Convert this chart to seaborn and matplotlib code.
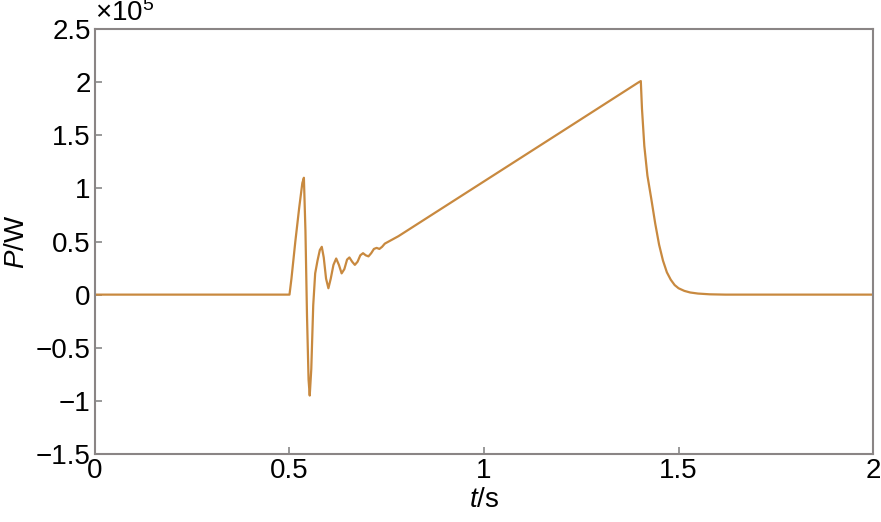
import matplotlib
matplotlib.use('Agg')
import matplotlib.pyplot as plt
import seaborn as sns
import pandas as pd
from matplotlib.ticker import FuncFormatter

# power trace, values in units of 1e5 W
t_s = [0.0, 0.500, 0.505, 0.515, 0.525, 0.533, 0.537, 0.541, 0.545, 0.549,
       0.552, 0.556, 0.561, 0.566, 0.572, 0.578, 0.583, 0.588, 0.594, 0.600,
       0.606, 0.613, 0.620, 0.627, 0.634, 0.641, 0.648, 0.654, 0.661, 0.668,
       0.675, 0.682, 0.689, 0.696, 0.703, 0.710, 0.717, 0.724, 0.731, 0.738,
       0.745, 0.755, 0.765, 0.780, 1.000, 1.200, 1.398, 1.403, 1.406, 1.412,
       1.420, 1.430, 1.440, 1.450, 1.460, 1.470, 1.480, 1.490, 1.500, 1.515,
       1.530, 1.550, 1.580, 1.620, 2.0]
p_w = [0.0, 0.0, 0.15, 0.50, 0.82, 1.05, 1.10, 0.60, -0.20, -0.80,
       -0.95, -0.70, -0.10, 0.20, 0.32, 0.42, 0.45, 0.35, 0.15, 0.06,
       0.15, 0.28, 0.34, 0.28, 0.20, 0.24, 0.33, 0.35, 0.31, 0.28,
       0.31, 0.37, 0.39, 0.37, 0.36, 0.39, 0.43, 0.44, 0.43, 0.45,
       0.48, 0.50, 0.52, 0.55, 1.066, 1.535, 2.00, 2.01, 1.75, 1.40,
       1.12, 0.90, 0.67, 0.47, 0.32, 0.21, 0.14, 0.09, 0.06, 0.035,
       0.02, 0.01, 0.003, 0.0, 0.0]

x_ticks = [0, 0.5, 1, 1.5, 2]
y_ticks = [-1.5, -1, -0.5, 0, 0.5, 1, 1.5, 2, 2.5]

sns.set_style('white')
plt.rcParams['font.family'] = ['Liberation Sans', 'DejaVu Sans']
plt.rcParams['mathtext.fontset'] = 'custom'
plt.rcParams['mathtext.rm'] = 'Liberation Sans'
plt.rcParams['mathtext.it'] = 'Liberation Sans:italic'
plt.rcParams['text.color'] = 'black'
plt.rcParams['axes.labelcolor'] = 'black'

df = pd.DataFrame({'t': t_s, 'P': p_w})

fig = plt.figure(figsize=(8.81, 5.22), dpi=100)
ax = fig.add_axes([0.1078, 0.1303, 0.8832, 0.8141])
sns.lineplot(data=df, x='t', y='P', ax=ax, color='#c8893f', lw=1.6)

ax.set_xlim(0, 2)
ax.set_ylim(-1.5, 2.5)
ax.set_xticks(x_ticks)
ax.set_yticks(y_ticks)
fmt = FuncFormatter(lambda v, pos: ('%g' % v).replace('-', '\u2212'))
ax.xaxis.set_major_formatter(fmt)
ax.yaxis.set_major_formatter(fmt)
ax.tick_params(direction='in', length=5, width=1.2, color='#888888',
               labelsize=20, labelcolor='black', pad=3, bottom=True, left=True)
for s in ax.spines.values():
    s.set_color('#8a8585')
    s.set_linewidth(1.5)

ax.set_xlabel('$\\it{t}$/s', fontsize=20, labelpad=2)
ax.set_ylabel('$\\it{P}$/W', fontsize=20, labelpad=4)
ax.text(0.0, 1.005, '\u00d710$^5$', transform=ax.transAxes, fontsize=20,
        ha='left', va='bottom')

fig.savefig('out.png', dpi=100)
